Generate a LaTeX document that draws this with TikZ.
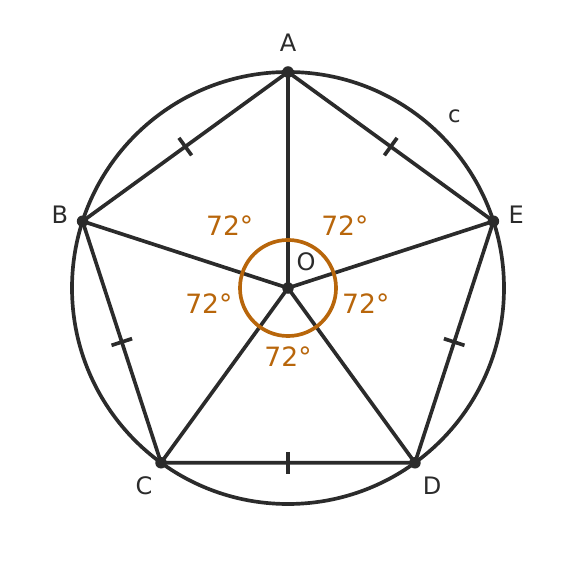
\documentclass[tikz,border=0pt]{standalone}
\usepackage{fontspec}
\setmainfont{DejaVu Sans}
\usetikzlibrary{calc}
\definecolor{inkgray}{HTML}{2B2B2B}
\definecolor{angleorange}{HTML}{B8660B}
\tikzset{
    edge/.style={draw=inkgray, line width=1.45pt},
    vertexdot/.style={circle, fill=inkgray, inner sep=0pt, minimum size=0.16cm},
    vlabel/.style={text=inkgray, font=\fontsize{9.5}{11}\selectfont, inner sep=0pt},
    anglelabel/.style={text=angleorange, font=\fontsize{10.5}{12}\selectfont, inner sep=0pt},
    tickmark/.style={draw=inkgray, line width=1.45pt}
}
\begin{document}
\begin{tikzpicture}
    \useasboundingbox (-4,-4) rectangle (4,4);
    % circumscribed circle
    \draw[edge] (0,0) circle (3);
    % vertices
    \node[vertexdot] (O) at (0,0) {};
    \node[vertexdot] (A) at (90:3) {};
    \node[vertexdot] (B) at (162:3) {};
    \node[vertexdot] (C) at (234:3) {};
    \node[vertexdot] (D) at (306:3) {};
    \node[vertexdot] (E) at (18:3) {};
    % pentagon and radii
    \draw[edge] (A.center) -- (B.center) -- (C.center) -- (D.center) -- (E.center) -- cycle;
    \foreach \v in {A,B,C,D,E}
        \draw[edge] (O.center) -- (\v.center);
    % equal side ticks
    \foreach \p/\q in {A/B,B/C,C/D,D/E,E/A}
        \draw[tickmark] ($(\p)!0.5!(\q)!0.15cm!90:(\q)$) -- ($(\p)!0.5!(\q)!0.15cm!-90:(\q)$);
    % central angle
    \draw[draw=angleorange, line width=1.45pt] (O) circle (0.667);
    % labels
    \node[vlabel] (lA) at (0,3.4) {A};
    \node[vlabel] (lB) at (-3.17,1.02) {B};
    \node[vlabel] (lC) at (-2.00,-2.75) {C};
    \node[vlabel] (lD) at (2.00,-2.75) {D};
    \node[vlabel] (lE) at (3.17,1.02) {E};
    \node[vlabel] (lO) at (0.25,0.36) {O};
    \node[vlabel, font=\fontsize{9}{11}\selectfont] (lc) at (2.31,2.39) {c};
    \node[anglelabel] (a1) at (-0.81,0.86) {72°};
    \node[anglelabel] (a2) at (0.79,0.86) {72°};
    \node[anglelabel] (a3) at (-1.10,-0.22) {72°};
    \node[anglelabel] (a4) at (1.08,-0.22) {72°};
    \node[anglelabel] (a5) at (0,-0.96) {72°};
\end{tikzpicture}
\end{document}
